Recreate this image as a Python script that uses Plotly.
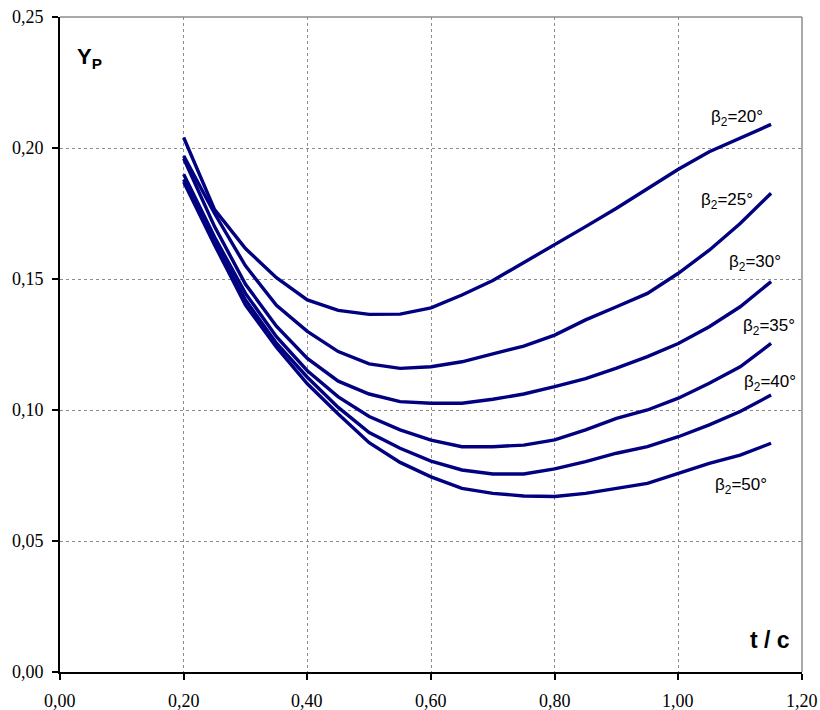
import plotly.graph_objects as go

# Profile loss coefficient Y_P versus pitch/chord ratio t/c for several exit angles beta_2
t_c = [0.20, 0.25, 0.30, 0.35, 0.40, 0.45, 0.50, 0.55, 0.60, 0.65,
       0.70, 0.75, 0.80, 0.85, 0.90, 0.95, 1.00, 1.05, 1.10, 1.15]

yp_20 = [0.2040, 0.1765, 0.1616, 0.1505, 0.1420, 0.1380, 0.1365, 0.1366, 0.1390, 0.1439,
         0.1494, 0.1562, 0.1632, 0.1700, 0.1770, 0.1846, 0.1919, 0.1986, 0.2037, 0.2090]
yp_25 = [0.1970, 0.1750, 0.1550, 0.1400, 0.1300, 0.1223, 0.1176, 0.1159, 0.1165, 0.1184,
         0.1214, 0.1244, 0.1286, 0.1344, 0.1394, 0.1445, 0.1522, 0.1610, 0.1712, 0.1827]
yp_30 = [0.1960, 0.1700, 0.1480, 0.1320, 0.1197, 0.1110, 0.1061, 0.1032, 0.1026, 0.1026,
         0.1041, 0.1061, 0.1089, 0.1120, 0.1160, 0.1204, 0.1254, 0.1318, 0.1394, 0.1490]
yp_35 = [0.1900, 0.1660, 0.1445, 0.1280, 0.1150, 0.1050, 0.0975, 0.0924, 0.0885, 0.0860,
         0.0860, 0.0866, 0.0886, 0.0924, 0.0968, 0.1000, 0.1045, 0.1102, 0.1165, 0.1254]
yp_40 = [0.1880, 0.1640, 0.1420, 0.1255, 0.1125, 0.1010, 0.0914, 0.0854, 0.0805, 0.0771,
         0.0756, 0.0756, 0.0775, 0.0803, 0.0835, 0.0860, 0.0898, 0.0943, 0.0994, 0.1057]
yp_50 = [0.1870, 0.1630, 0.1400, 0.1240, 0.1100, 0.0985, 0.0875, 0.0800, 0.0745, 0.0701,
         0.0682, 0.0672, 0.0670, 0.0682, 0.0701, 0.0720, 0.0758, 0.0796, 0.0828, 0.0873]

series = [("20", yp_20), ("25", yp_25), ("30", yp_30),
          ("35", yp_35), ("40", yp_40), ("50", yp_50)]

# Curve labels and where they sit (data coordinates)
label_x = [1.095, 1.079, 1.124, 1.147, 1.148, 1.101]
label_y = [0.2115, 0.1798, 0.1561, 0.1317, 0.1103, 0.0710]

x_ticks = [0.0, 0.2, 0.4, 0.6, 0.8, 1.0, 1.2]
y_ticks = [0.0, 0.05, 0.10, 0.15, 0.20, 0.25]
x_tick_text = ["0,00", "0,20", "0,40", "0,60", "0,80", "1,00", "1,20"]
y_tick_text = ["0,00", "0,05", "0,10", "0,15", "0,20", "0,25"]

LINE = "#000080"
GRID = "#8c8c8c"
SANS = "Liberation Sans"
SERIF = "Liberation Serif"

fig = go.Figure()
for name, ys in series:
    fig.add_trace(go.Scatter(x=t_c, y=ys, mode="lines", name=f"β2={name}°",
                             line=dict(color=LINE, width=3.4), showlegend=False))

for (name, _), lx, ly in zip(series, label_x, label_y):
    fig.add_annotation(x=lx, y=ly, text=f"β<sub>2</sub>={name}°", showarrow=False,
                       font=dict(family=SANS, size=17, color="black"))

# Tick labels in a serif face, placed at the axis tick values
tick_font = dict(family=SERIF, size=18, color="black")
for v, txt in zip(x_ticks, x_tick_text):
    fig.add_annotation(x=v, xref="x", y=0, yref="paper", yanchor="top", yshift=-17,
                       text=txt, showarrow=False, font=tick_font)
for v, txt in zip(y_ticks, y_tick_text):
    fig.add_annotation(x=0, xref="paper", xanchor="right", xshift=-14, y=v, yref="y",
                       text=txt, showarrow=False, font=tick_font)

fig.add_annotation(xref="paper", yref="paper", x=0.02, y=0.962, xanchor="left",
                   yanchor="top", text="<b>Y<sub>P</sub></b>", showarrow=False,
                   font=dict(family=SANS, size=22, color="black"))
fig.add_annotation(xref="paper", yref="paper", x=0.987, y=0.026, xanchor="right",
                   text="<b>t / c</b>", showarrow=False,
                   font=dict(family=SANS, size=23, color="black"))

# Gray frame on top and right edges of the plotting area
fig.add_shape(type="line", xref="paper", yref="paper", x0=0, x1=1, y0=1, y1=1,
              line=dict(color=GRID, width=1.5))
fig.add_shape(type="line", xref="paper", yref="paper", x0=1, x1=1, y0=0, y1=1,
              line=dict(color=GRID, width=1.5))

axis_common = dict(showgrid=True, gridcolor=GRID, griddash="dot", gridwidth=1,
                   showline=True, linecolor="black", linewidth=2,
                   ticks="outside", ticklen=6, tickcolor="black", tickwidth=2,
                   showticklabels=False, zeroline=False, automargin=False)

fig.update_layout(
    width=820, height=710,
    xaxis=dict(range=[0, 1.2], tickmode="array", tickvals=x_ticks, **axis_common),
    yaxis=dict(range=[0, 0.25], tickmode="array", tickvals=y_ticks, **axis_common),
    margin=dict(l=60, r=18, t=17, b=38),
    plot_bgcolor="white", paper_bgcolor="white",
)

fig.write_html("out.html")
